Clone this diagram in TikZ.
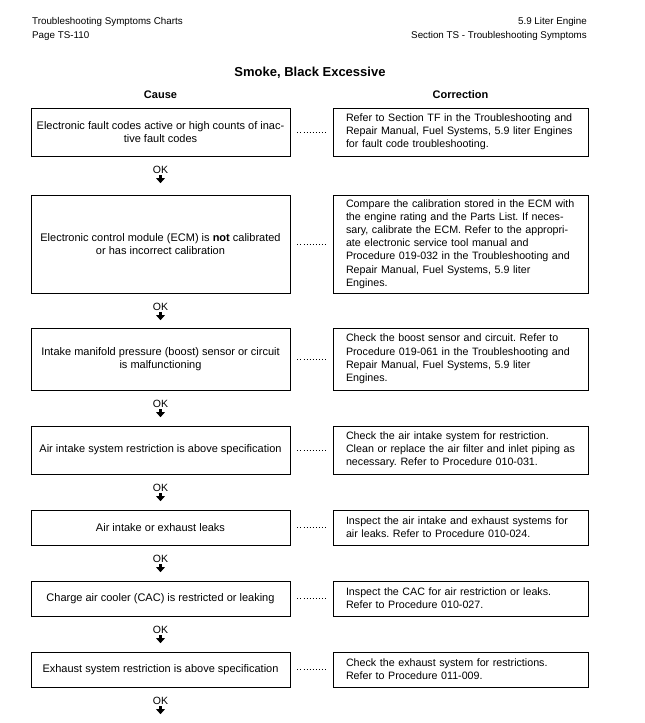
\documentclass[tikz,border=0pt]{standalone}
\usepackage{fontspec}
\setmainfont{Liberation Sans}
\usetikzlibrary{positioning,arrows.meta}
\frenchspacing

\begin{document}
\begin{tikzpicture}[x=1pt,y=-1pt,
  header/.style={inner sep=0pt,font=\fontsize{9.8}{12}\selectfont},
  title/.style={font=\fontsize{13}{15}\selectfont\bfseries},
  colhead/.style={font=\fontsize{11}{13}\selectfont\bfseries},
  cause/.style={draw,line width=0.8pt,minimum width=259pt,align=center,font=\fontsize{11}{13.2}\selectfont},
  fix/.style={draw,line width=0.8pt,text width=241pt,inner xsep=7pt,align=left,
    execute at begin node={\leftskip=6pt},font=\fontsize{10.7}{13.2}\selectfont},
  dotline/.style={line width=1pt,dash pattern=on 1pt off 2.06pt,shorten <=7pt,shorten >=7pt},
  oklabel/.style={inner sep=0pt,font=\fontsize{10.5}{11}\selectfont},
  okarrow/.style={line width=3pt,shorten <=1pt,-{Triangle[width=8.5pt,length=5pt]}}]
\useasboundingbox (0,0) rectangle (645,723);
% page header
\node[header,anchor=west] (charts) at (32,22) {Troubleshooting Symptoms Charts};
\node[header,anchor=west] (page) at (32,36) {Page TS-110};
\node[header,anchor=east] (engine) at (587,22) {5.9 Liter Engine};
\node[header,anchor=east] (section) at (587,36) {Section TS - Troubleshooting Symptoms};
\node[title] (symptom) at (310,73) {Smoke, Black Excessive};
\node[colhead] (causehead) at (160.5,95) {Cause};
\node[colhead] (fixhead) at (460.5,95) {Correction};
% causes
\node[cause,minimum height=48pt] (cause1) at (160.5,132) {Electronic fault codes active or high counts of inac-\\tive fault codes};
\node[cause,minimum height=98pt] (cause2) at (160.5,244) {Electronic control module (ECM) is \textbf{not} calibrated\\or has incorrect calibration};
\node[cause,minimum height=62pt] (cause3) at (160.5,359) {Intake manifold pressure (boost) sensor or circuit\\is malfunctioning};
\node[cause,minimum height=48pt] (cause4) at (160.5,450) {Air intake system restriction is above specification};
\node[cause,minimum height=35pt] (cause5) at (160.5,527.5) {Air intake or exhaust leaks};
\node[cause,minimum height=35pt] (cause6) at (160.5,598.5) {Charge air cooler (CAC) is restricted or leaking};
\node[cause,minimum height=35pt] (cause7) at (160.5,669.5) {Exhaust system restriction is above specification};
% corrections
\node[fix,minimum height=48pt] (fix1) at (460.5,132) {Refer to Section TF in the Troubleshooting and\\Repair Manual, Fuel Systems, 5.9 liter Engines\\for fault code troubleshooting.};
\node[fix,minimum height=98pt] (fix2) at (460.5,244) {Compare the calibration stored in the ECM with\\the engine rating and the Parts List. If neces-\\sary, calibrate the ECM. Refer to the appropri-\\ate electronic service tool manual and\\Procedure 019-032 in the Troubleshooting and\\Repair Manual, Fuel Systems, 5.9 liter\\Engines.};
\node[fix,minimum height=62pt] (fix3) at (460.5,359) {Check the boost sensor and circuit. Refer to\\Procedure 019-061 in the Troubleshooting and\\Repair Manual, Fuel Systems, 5.9 liter\\Engines.};
\node[fix,minimum height=48pt] (fix4) at (460.5,450) {Check the air intake system for restriction.\\Clean or replace the air filter and inlet piping as\\necessary. Refer to Procedure 010-031.};
\node[fix,minimum height=35pt] (fix5) at (460.5,527.5) {Inspect the air intake and exhaust systems for\\air leaks. Refer to Procedure 010-024.};
\node[fix,minimum height=35pt] (fix6) at (460.5,598.5) {Inspect the CAC for air restriction or leaks.\\Refer to Procedure 010-027.};
\node[fix,minimum height=35pt] (fix7) at (460.5,669.5) {Check the exhaust system for restrictions.\\Refer to Procedure 011-009.};
% dotted leaders and OK arrows
\foreach \i in {1,...,7} {
	\draw[dotline] (cause\i) -- (fix\i);
	\node[oklabel,below=10pt of cause\i] (ok\i) {OK};
	\coordinate[below=9pt of ok\i] (okend\i);
	\draw[okarrow] (ok\i.south) -- (okend\i);
}
\end{tikzpicture}
\end{document}
